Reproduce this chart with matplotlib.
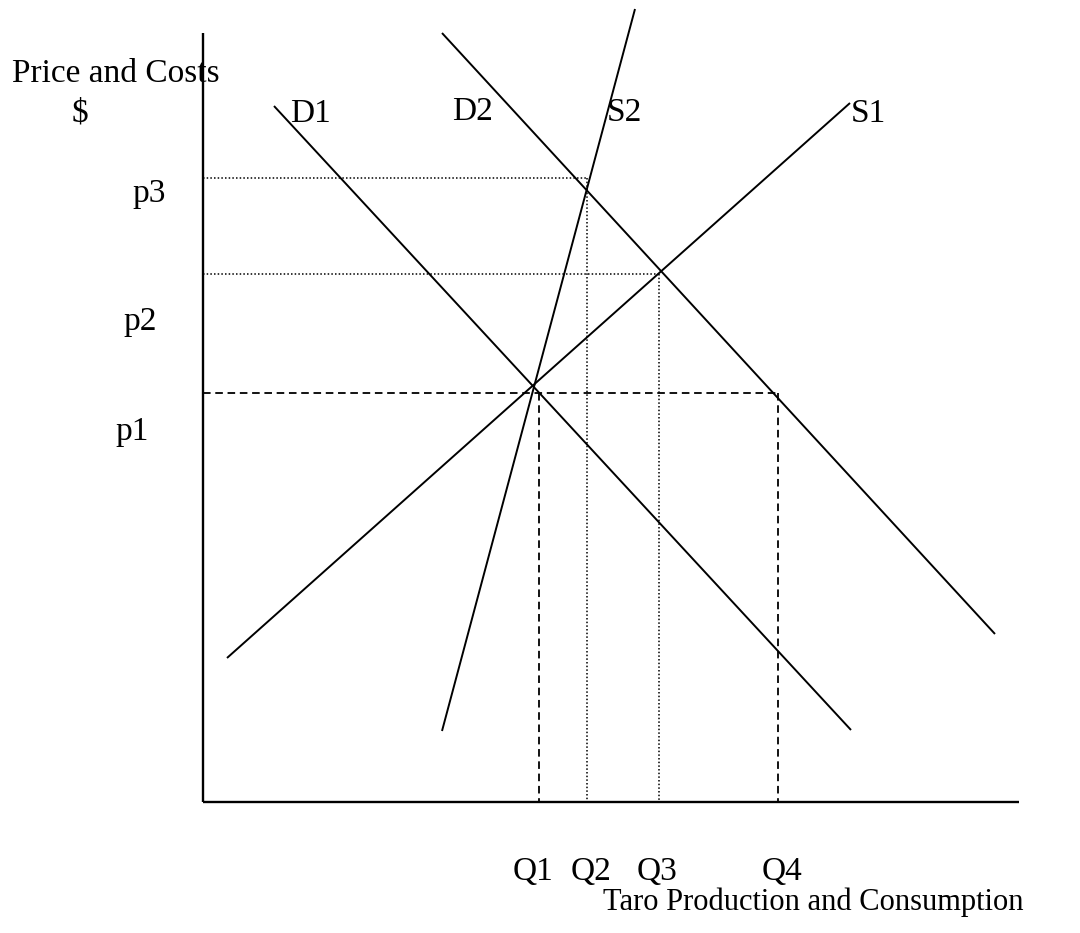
import matplotlib
matplotlib.use("Agg")
import matplotlib.pyplot as plt

# ---- data (quantity, price) in chart units; origin at axes corner ----
curve_names = ["D1", "D2", "S1", "S2"]
curve_q_start = [71, 239, 24, 239]
curve_p_start = [696, 769, 144, 71]
curve_q_end = [648, 792, 647, 432]
curve_p_end = [72, 168, 699, 793]

price_labels = ["p1", "p2", "p3"]
price_levels = [409, 528, 624]

quantity_labels = ["Q1", "Q2", "Q3", "Q4"]
quantity_levels = [336, 384, 456, 575]

q_axis_max = 816
p_axis_max = 769

y_title = "Price and Costs"
y_unit = "$"
x_title = "Taro Production and Consumption"

# ---- figure ----
plt.rcParams['font.family'] = ['Liberation Serif', 'DejaVu Serif']
fig = plt.figure(figsize=(10.8, 9.33), dpi=100)
ax = fig.add_axes([0, 0, 1, 1])
ax.set_xlim(-203, 877)
ax.set_ylim(-131, 802)
ax.axis('off')

k = 'black'
# axes
ax.plot([0, 0], [0, p_axis_max], color=k, lw=1.7, solid_capstyle='butt')
ax.plot([0, q_axis_max], [0, 0], color=k, lw=1.7, solid_capstyle='butt')

# curves
for qs, ps, qe, pe in zip(curve_q_start, curve_p_start, curve_q_end, curve_p_end):
    ax.plot([qs, qe], [ps, pe], color=k, lw=1.4, solid_capstyle='butt')

dash = dict(color=k, lw=1.3, dashes=(4.2, 2.6))
dot = dict(color=k, lw=1.1, dashes=(1, 1.4))

# p1 dashed: horizontal to Q4, verticals at Q1 and Q4
p1 = price_levels[0]
ax.plot([0, quantity_levels[3]], [p1, p1], **dash)
ax.plot([quantity_levels[0], quantity_levels[0]], [p1, 0], **dash)
ax.plot([quantity_levels[3], quantity_levels[3]], [p1, 0], **dash)

# p2 dotted to Q3, p3 dotted to Q2
p2 = price_levels[1]
p3 = price_levels[2]
ax.plot([0, quantity_levels[2]], [p2, p2], **dot)
ax.plot([quantity_levels[2], quantity_levels[2]], [p2, 0], **dot)
ax.plot([0, quantity_levels[1]], [p3, p3], **dot)
ax.plot([quantity_levels[1], quantity_levels[1]], [p3, 0], **dot)

fs = 24
tk = dict(fontsize=fs, ha='left', va='baseline', color=k)
ax.text(-191, 720, y_title, **tk)
ax.text(-131, 680, y_unit, **tk)

curve_label_pos = {"D1": (87, 680), "D2": (249, 682), "S2": (404, 681), "S1": (648, 680)}
for name in curve_names:
    x, y = curve_label_pos[name]
    ax.text(x, y, name, **tk)

price_label_x = [-88, -80, -71]
price_label_y = [362, 472, 600]
for lab, x, y in zip(price_labels, price_label_x, price_label_y):
    ax.text(x, y, lab, **tk)

q_label_x = [310, 368, 434, 559]
for lab, x in zip(quantity_labels, q_label_x):
    ax.text(x, -78, lab, **tk)

ax.text(400, -108, x_title, fontsize=22, ha='left', va='baseline', color=k)

fig.savefig("out.png", dpi=100)
